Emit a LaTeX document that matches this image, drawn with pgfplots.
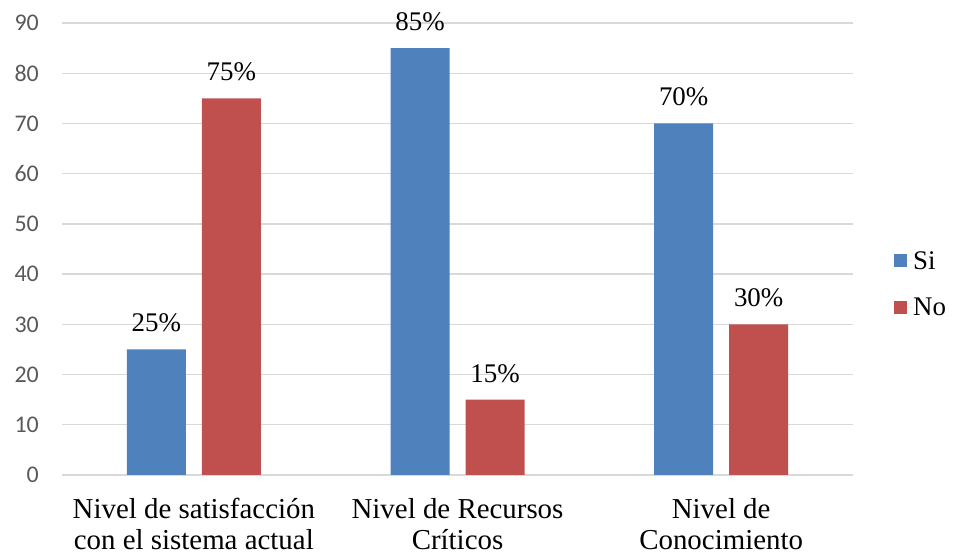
\documentclass[border=0pt]{standalone}
\usepackage{pgfplots}
\pgfplotsset{compat=1.18}
\usepackage{fontspec}
\setmainfont{Liberation Serif}
\newfontfamily\ticksfont{Carlito}

\definecolor{siblue}{HTML}{4F81BD}
\definecolor{nored}{HTML}{C0504D}
\definecolor{gridgray}{HTML}{D9D9D9}
\definecolor{tickgray}{HTML}{595959}

\begin{document}
\begin{tikzpicture}[x=1bp,y=1bp]
\useasboundingbox (0,0) rectangle (955,558);
\begin{axis}[
    at={(62bp,83bp)}, anchor=south west,
    scale only axis, width=791bp, height=452bp,
    xmin=-0.5, xmax=2.5, ymin=0, ymax=90,
    ybar=16bp, bar width=59bp,
    ytick={0,10,...,90},
    xtick={0,1,2},
    xticklabels={Nivel de satisfacción\\con el sistema actual, Nivel de Recursos\\Críticos, Nivel de\\Conocimiento},
    axis line style={draw=none},
    tick style={draw=none},
    ymajorgrids,
    grid style={color=gridgray, line width=1.3bp},
    /pgf/number format/assume math mode=true,
    yticklabel style={font=\ticksfont\fontsize{24}{24}\selectfont, color=tickgray, inner sep=0pt, xshift=-23bp},
    xticklabel style={font=\fontsize{29}{31}\selectfont, align=center, inner sep=0pt, yshift=-19bp},
    nodes near coords={\pgfmathprintnumber{\pgfplotspointmeta}\%},
    nodes near coords style={font=\fontsize{27}{27}\selectfont, inner sep=0pt, yshift=17bp, color=black},
    legend style={at={(1,0.4226)}, anchor=west, xshift=41bp, draw=none, fill=none,
        font=\fontsize{27}{27}\selectfont, row sep=27bp, inner sep=0pt,
        nodes={inner sep=0pt, anchor=west}},
]
\addplot[fill=siblue, draw=none,
    legend image code/.code={\fill[siblue] (0bp,-6.5bp) rectangle (13bp,6.5bp); \path (0bp,0bp) -- (19bp,0bp);}]
    coordinates {(0,25) (1,85) (2,70)};
\addplot[fill=nored, draw=none,
    legend image code/.code={\fill[nored] (0bp,-6.5bp) rectangle (13bp,6.5bp); \path (0bp,0bp) -- (19bp,0bp);}]
    coordinates {(0,75) (1,15) (2,30)};
\legend{Si, No}
\end{axis}
\end{tikzpicture}
\end{document}
